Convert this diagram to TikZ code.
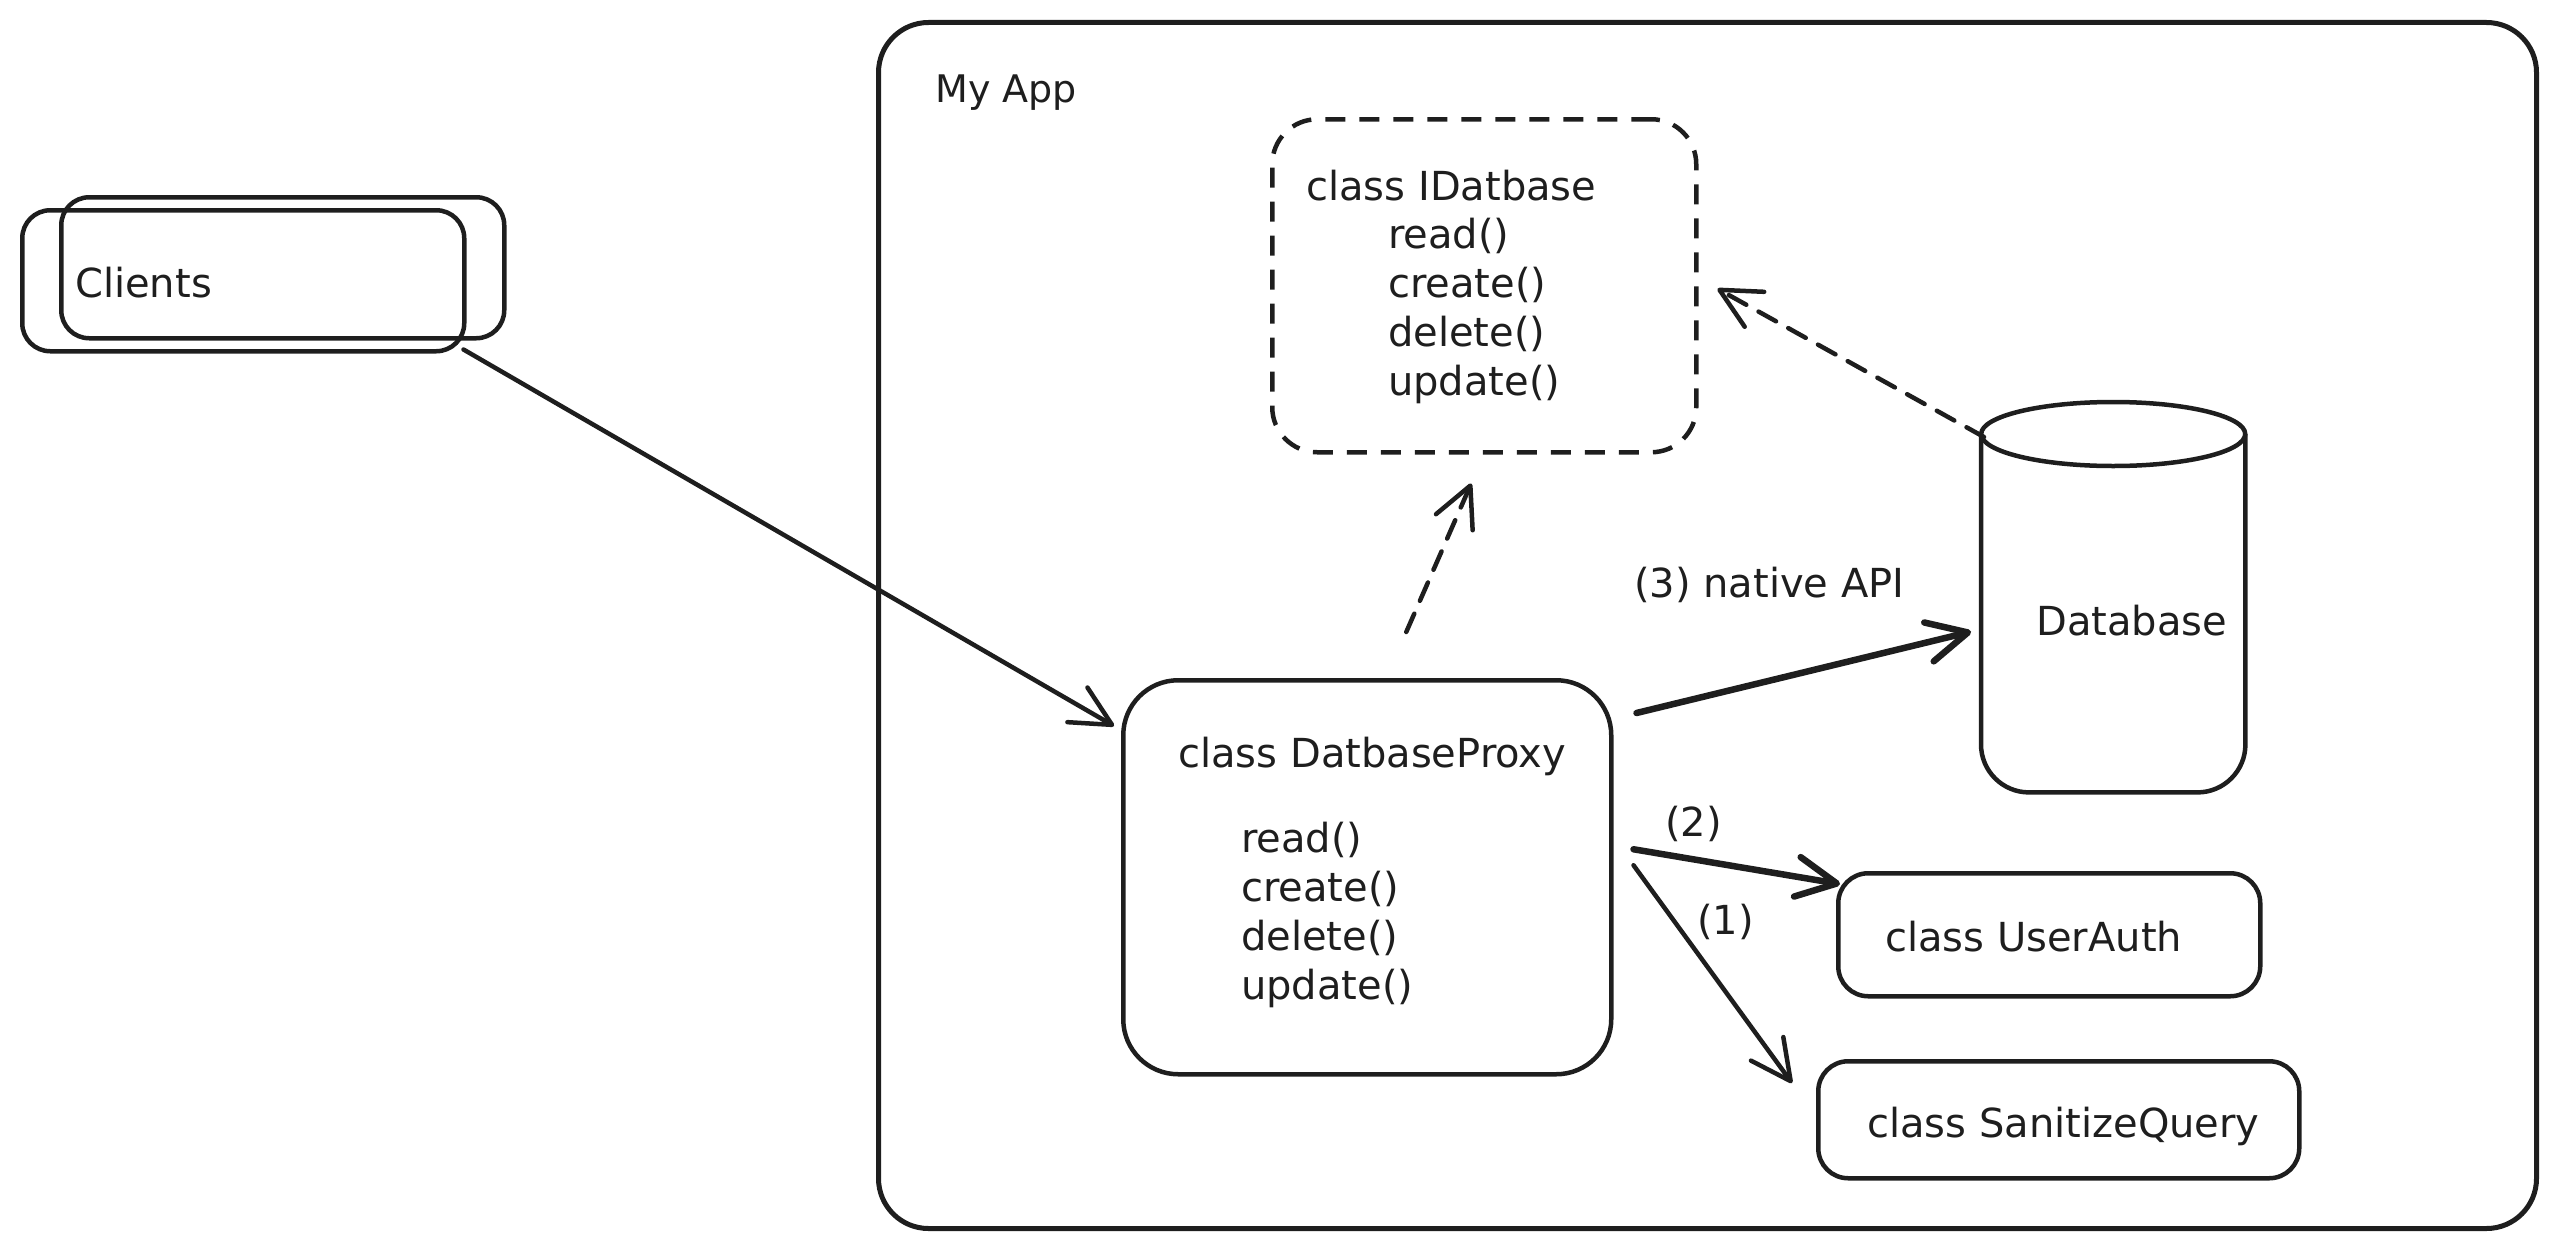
\documentclass[tikz,border=0pt]{standalone}
\usepackage{fontspec}
\setmainfont{DejaVu Sans}
\usetikzlibrary{arrows.meta,calc}
\definecolor{inkc}{HTML}{1E1E1E}
\begin{document}
\begin{tikzpicture}[x=1pt,y=-1pt,
  ink/.style={draw=inkc, line width=4.5pt},
  box/.style={ink, rectangle, rounded corners=#1, inner sep=0pt, anchor=north west},
  box/.default=30pt,
  txt/.style={anchor=base west, inner sep=0pt, font=\fontsize{40}{49}\selectfont, text=inkc},
  conn/.style={ink, line cap=round, -{Straight Barb[length=40pt,width=40pt,line cap=round,line join=round]}},
  dashconn/.style={conn, dash pattern=on 20pt off 14pt},
  heavy/.style={line width=6.5pt}
]
\useasboundingbox (0,0) rectangle (2554,1247);

% application frame
\node[box=50pt, line width=5pt, minimum width=1658pt, minimum height=1206pt] (frame) at (876,20) {};
\node[txt, font=\fontsize{38}{45}\selectfont] (frameT) at (935,102) {My App};

% clients: two stacked boxes
\node[box=28pt, minimum width=443pt, minimum height=141pt] (clB) at (59,195) {};
\node[box=28pt, minimum width=442pt, minimum height=141pt] (clA) at (20,208) {};
\node[txt] (clT) at (75,297) {Clients};

% interface
\node[box=45pt, dash pattern=on 20pt off 14pt, minimum width=424pt, minimum height=333pt] (idb) at (1270,117) {};
\node[txt] (idbT) at (1306,200) {class IDatbase};
\foreach \m [count=\i] in {read(),create(),delete(),update()}
  \node[txt] (idbm\i) at (1388,{199+49*\i}) {\m};

% proxy
\node[box=55pt, minimum width=488pt, minimum height=394pt] (proxy) at (1121,678) {};
\node[txt] (proxyT) at (1178,767) {class DatbaseProxy};
\foreach \m [count=\i] in {read(),create(),delete(),update()}
  \node[txt] (proxym\i) at (1241,{803+49*\i}) {\m};

% database cylinder
\node[minimum width=264pt, minimum height=391pt, inner sep=0pt, anchor=north west] (db) at (1981,401) {};
\draw[ink, rounded corners=48pt] ($(db.north west)+(0,33)$) -- (db.south west) -- (db.south east) -- ($(db.north east)+(0,33)$);
\draw[ink] ($(db.north)+(0,33)$) ellipse [x radius=132, y radius=32];
\node[txt] (dbT) at (2036,635) {Database};

% helper classes
\node[box=30pt, minimum width=422pt, minimum height=123pt] (ua) at (1836,871) {};
\node[txt] (uaT) at (1885,951) {class UserAuth};
\node[box=30pt, minimum width=481pt, minimum height=117pt] (sq) at (1816,1059) {};
\node[txt] (sqT) at (1867,1137) {class SanitizeQuery};

% connectors
\draw[conn] ($(clA.south east)+(-3,-4)$) -- ($(proxy.north west)+(-7,48)$);
\draw[dashconn] ($(proxy.north)+(39,-46)$) -- ($(idb.south)+(-13,29)$);
\draw[dashconn] ($(db.north west)+(3,36)$) -- ($(idb.east)+(19,3)$);
\draw[conn, heavy] ($(proxy.north east)+(23,35)$) -- ($(db.west)+(-10,35)$);
\draw[conn, heavy] ($(proxy.east)+(20,-28)$) -- ($(ua.north west)+(4,13)$);
\draw[conn] ($(proxy.east)+(20,-12)$) -- ($(sq.north west)+(-24,24)$);

% connector labels
\node[txt] (l3) at (1634,597) {(3) native API};
\node[txt] (l2) at (1665,836) {(2)};
\node[txt] (l1) at (1697,934) {(1)};
\end{tikzpicture}
\end{document}
